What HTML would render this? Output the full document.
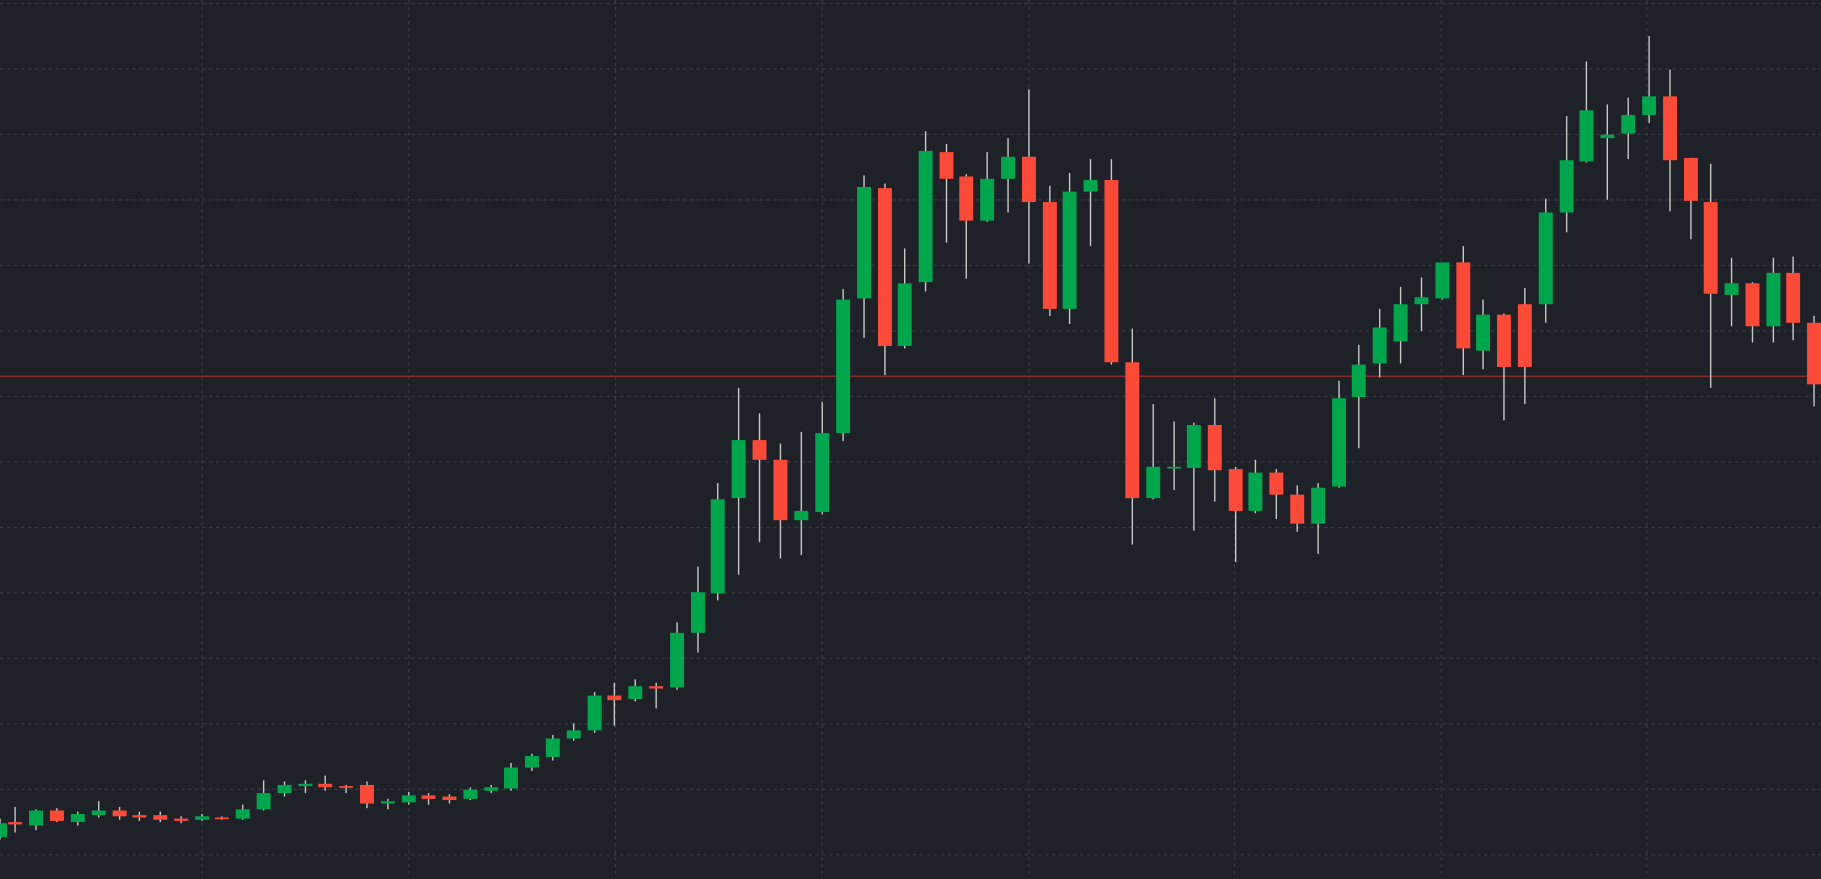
<!DOCTYPE html>
<html><head><meta charset="utf-8"><style>
html,body{margin:0;padding:0;background:#1f2128;overflow:hidden}
svg{display:block}
</style></head><body>
<svg id="c" width="1821" height="879" viewBox="0 0 1568 757" preserveAspectRatio="none" xmlns="http://www.w3.org/2000/svg">
<rect width="1568" height="757" fill="#1f2128"/>
<g id="grid" stroke="#393b42" stroke-width="1" stroke-dasharray="3,3"></g>
<line x1="0" y1="324" x2="1568" y2="324" stroke="#a8322b" stroke-width="1"/>
<g id="k"></g>
</svg>
<script>
var g=document.getElementById('grid'),k=document.getElementById('k'),ns='http://www.w3.org/2000/svg';
function el(t,a,p){var e=document.createElementNS(ns,t);for(var i in a)e.setAttribute(i,a[i]);p.appendChild(e);}
[174,352,530,708,886,1063,1241,1418].forEach(function(x){el('line',{x1:x,y1:0,x2:x,y2:757},g);});
for(var y=3;y<757;y+=56.4)el('line',{x1:0,y1:y,x2:1568,y2:y},g);
// x, open, close, high, low (in pixel y)
var d=[
[0,721,709,705,723],[13,708,710,695,717],[31,711,698,697,715],[49,698,707,696,708],[67,708,701,699,711],[85,702,698,690,704],[103,698,703,695,706],[120,702,704,699,707],[138,702,706,699,708],[156,705,707,703,709],[174,706,703,701,707],[191,704,705,703,706],[209,705,697,693,706],[227,697,683,672,698],[245,683,676,673,686],[263,677,675,672,683],[280,675,678,668,681],[298,677,678,676,683],[316,676,692,673,696],[334,692,690,688,697],[352,691,685,682,693],[369,685,688,683,693],[387,686,689,684,692],[405,688,680,678,689],[423,681,678,676,683],[440,679,661,657,681],[458,661,651,649,664],[476,652,636,633,655],[494,636,629,623,638],[512,629,599,596,631],[529,599,603,588,625],[547,602,591,585,604],[565,591,593,588,610],[583,592,545,536,594],[601,545,510,488,562],[618,511,430,416,517],[636,429,379,334,495],[654,379,396,356,467],[672,396,448,382,481],[690,448,440,372,478],[708,441,373,346,443],[726,373,258,249,380],[744,257,161,151,291],[762,162,298,158,323],[779,298,244,214,300],[797,243,130,113,251],[815,131,154,124,209],[832,152,190,150,240],[850,190,154,131,191],[868,154,135,119,183],[886,135,174,77,227],[904,174,266,160,272],[921,266,165,149,279],[939,165,155,137,212],[957,155,312,137,314],[975,312,429,283,469],[993,429,402,348,430],[1011,403,402,363,422],[1028,403,366,364,457],[1046,366,405,343,432],[1064,404,440,402,484],[1081,440,407,396,442],[1099,407,426,404,447],[1117,426,451,418,458],[1135,451,420,416,477],[1153,419,343,328,420],[1170,342,314,297,386],[1188,313,282,266,325],[1206,294,262,247,313],[1224,262,256,239,285],[1242,257,226,226,258],[1260,226,300,212,323],[1277,302,271,258,318],[1295,271,316,270,362],[1313,262,316,248,348],[1331,262,183,171,278],[1349,183,138,100,200],[1366,139,95,53,140],[1384,119,116,90,172],[1402,115,99,84,137],[1420,99,83,31,106],[1438,83,138,60,182],[1456,136,173,136,206],[1473,174,253,141,334],[1491,254,244,222,281],[1509,244,281,243,295],[1527,281,235,222,295],[1544,235,278,221,293],[1562,278,331,272,350]];
d.forEach(function(c){
 var up=c[2]<c[1],col=up?'#00a64c':'#fb4a38';
 el('line',{x1:c[0],y1:c[3],x2:c[0],y2:c[4],stroke:'#c8c8c8','stroke-width':1.2},k);
 var t=Math.min(c[1],c[2]),h=Math.max(Math.abs(c[1]-c[2]),1.5);
 el('rect',{x:c[0]-6,y:t,width:12,height:h,fill:col},k);
});
</script>
</body></html>
